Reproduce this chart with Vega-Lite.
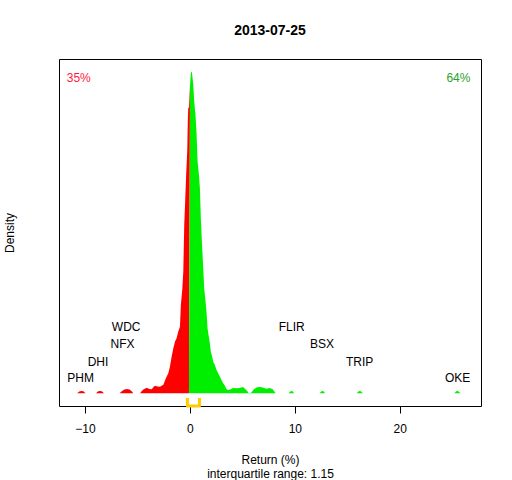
{
  "$schema": "https://vega.github.io/schema/vega-lite/v6.json",
  "width": 422,
  "height": 347,
  "autosize": {"type": "none"},
  "padding": {"left": 59, "top": 59, "right": 31, "bottom": 74},
  "background": "white",
  "title": {
    "text": "2013-07-25",
    "font": "Liberation Sans",
    "fontSize": 14,
    "fontWeight": "bold",
    "color": "black",
    "offset": 21
  },
  "datasets": {
    "density": [
      {"x": -10.75, "y": 0, "side": "neg"},
      {"x": -10.55, "y": 0.005, "side": "neg"},
      {"x": -10.35, "y": 0.007, "side": "neg"},
      {"x": -10.15, "y": 0.006, "side": "neg"},
      {"x": -9.95, "y": 0, "side": "neg"},
      {"x": -8.95, "y": 0, "side": "neg"},
      {"x": -8.75, "y": 0.006, "side": "neg"},
      {"x": -8.55, "y": 0.007, "side": "neg"},
      {"x": -8.35, "y": 0.005, "side": "neg"},
      {"x": -8.2, "y": 0, "side": "neg"},
      {"x": -6.7, "y": 0, "side": "neg"},
      {"x": -6.5, "y": 0.006, "side": "neg"},
      {"x": -6.25, "y": 0.011, "side": "neg"},
      {"x": -6.0, "y": 0.013, "side": "neg"},
      {"x": -5.75, "y": 0.011, "side": "neg"},
      {"x": -5.5, "y": 0.004, "side": "neg"},
      {"x": -5.4, "y": 0, "side": "neg"},
      {"x": -4.75, "y": 0, "side": "neg"},
      {"x": -4.59, "y": 0.007, "side": "neg"},
      {"x": -4.4, "y": 0.012, "side": "neg"},
      {"x": -4.12, "y": 0.017, "side": "neg"},
      {"x": -3.88, "y": 0.013, "side": "neg"},
      {"x": -3.64, "y": 0.012, "side": "neg"},
      {"x": -3.45, "y": 0.02, "side": "neg"},
      {"x": -3.32, "y": 0.023, "side": "neg"},
      {"x": -3.1, "y": 0.021, "side": "neg"},
      {"x": -2.85, "y": 0.02, "side": "neg"},
      {"x": -2.53, "y": 0.026, "side": "neg"},
      {"x": -2.28, "y": 0.047, "side": "neg"},
      {"x": -2.06, "y": 0.062, "side": "neg"},
      {"x": -1.9, "y": 0.083, "side": "neg"},
      {"x": -1.74, "y": 0.114, "side": "neg"},
      {"x": -1.58, "y": 0.14, "side": "neg"},
      {"x": -1.42, "y": 0.161, "side": "neg"},
      {"x": -1.27, "y": 0.171, "side": "neg"},
      {"x": -1.11, "y": 0.192, "side": "neg"},
      {"x": -0.95, "y": 0.207, "side": "neg"},
      {"x": -0.86, "y": 0.275, "side": "neg"},
      {"x": -0.73, "y": 0.322, "side": "neg"},
      {"x": -0.63, "y": 0.379, "side": "neg"},
      {"x": -0.54, "y": 0.524, "side": "neg"},
      {"x": -0.44, "y": 0.607, "side": "neg"},
      {"x": -0.35, "y": 0.685, "side": "neg"},
      {"x": -0.25, "y": 0.758, "side": "neg"},
      {"x": -0.2, "y": 0.85, "side": "neg"},
      {"x": -0.16, "y": 0.888, "side": "neg"},
      {"x": -0.09, "y": 0.888, "side": "neg"},
      {"x": 0.01, "y": 0.96, "side": "pos"},
      {"x": 0.095, "y": 0.997, "side": "pos"},
      {"x": 0.19, "y": 1.0, "side": "pos"},
      {"x": 0.32, "y": 0.96, "side": "pos"},
      {"x": 0.41, "y": 0.908, "side": "pos"},
      {"x": 0.54, "y": 0.862, "side": "pos"},
      {"x": 0.63, "y": 0.81, "side": "pos"},
      {"x": 0.73, "y": 0.722, "side": "pos"},
      {"x": 0.86, "y": 0.68, "side": "pos"},
      {"x": 0.95, "y": 0.639, "side": "pos"},
      {"x": 1.04, "y": 0.545, "side": "pos"},
      {"x": 1.14, "y": 0.472, "side": "pos"},
      {"x": 1.27, "y": 0.389, "side": "pos"},
      {"x": 1.36, "y": 0.327, "side": "pos"},
      {"x": 1.49, "y": 0.285, "side": "pos"},
      {"x": 1.58, "y": 0.254, "side": "pos"},
      {"x": 1.68, "y": 0.202, "side": "pos"},
      {"x": 1.77, "y": 0.182, "side": "pos"},
      {"x": 1.9, "y": 0.156, "side": "pos"},
      {"x": 1.99, "y": 0.13, "side": "pos"},
      {"x": 2.12, "y": 0.114, "side": "pos"},
      {"x": 2.22, "y": 0.098, "side": "pos"},
      {"x": 2.37, "y": 0.088, "side": "pos"},
      {"x": 2.53, "y": 0.073, "side": "pos"},
      {"x": 2.69, "y": 0.062, "side": "pos"},
      {"x": 2.85, "y": 0.052, "side": "pos"},
      {"x": 3.01, "y": 0.041, "side": "pos"},
      {"x": 3.17, "y": 0.031, "side": "pos"},
      {"x": 3.32, "y": 0.024, "side": "pos"},
      {"x": 3.48, "y": 0.013, "side": "pos"},
      {"x": 3.64, "y": 0.01, "side": "pos"},
      {"x": 3.9, "y": 0.012, "side": "pos"},
      {"x": 4.11, "y": 0.016, "side": "pos"},
      {"x": 4.43, "y": 0.015, "side": "pos"},
      {"x": 4.75, "y": 0.016, "side": "pos"},
      {"x": 5.06, "y": 0.019, "side": "pos"},
      {"x": 5.38, "y": 0.01, "side": "pos"},
      {"x": 5.63, "y": 0, "side": "pos"},
      {"x": 5.86, "y": 0.002, "side": "pos"},
      {"x": 6.1, "y": 0.012, "side": "pos"},
      {"x": 6.4, "y": 0.018, "side": "pos"},
      {"x": 6.7, "y": 0.019, "side": "pos"},
      {"x": 7.0, "y": 0.017, "side": "pos"},
      {"x": 7.3, "y": 0.014, "side": "pos"},
      {"x": 7.6, "y": 0.016, "side": "pos"},
      {"x": 7.9, "y": 0.012, "side": "pos"},
      {"x": 8.17, "y": 0, "side": "pos"},
      {"x": 9.4, "y": 0, "side": "pos"},
      {"x": 9.6, "y": 0.006, "side": "pos"},
      {"x": 9.75, "y": 0.007, "side": "pos"},
      {"x": 9.95, "y": 0, "side": "pos"},
      {"x": 12.35, "y": 0, "side": "pos"},
      {"x": 12.55, "y": 0.006, "side": "pos"},
      {"x": 12.7, "y": 0.007, "side": "pos"},
      {"x": 12.9, "y": 0, "side": "pos"},
      {"x": 15.9, "y": 0, "side": "pos"},
      {"x": 16.1, "y": 0.006, "side": "pos"},
      {"x": 16.25, "y": 0.007, "side": "pos"},
      {"x": 16.5, "y": 0, "side": "pos"},
      {"x": 25.2, "y": 0, "side": "pos"},
      {"x": 25.4, "y": 0.006, "side": "pos"},
      {"x": 25.55, "y": 0.007, "side": "pos"},
      {"x": 25.8, "y": 0, "side": "pos"}
    ],
    "tickers": [
      {"ticker": "PHM", "x": -10.42, "y": 0.048},
      {"ticker": "DHI", "x": -8.76, "y": 0.098},
      {"ticker": "NFX", "x": -6.43, "y": 0.154},
      {"ticker": "WDC", "x": -6.08, "y": 0.207},
      {"ticker": "FLIR", "x": 9.7, "y": 0.207},
      {"ticker": "BSX", "x": 12.59, "y": 0.154},
      {"ticker": "TRIP", "x": 16.18, "y": 0.098},
      {"ticker": "OKE", "x": 25.52, "y": 0.048}
    ],
    "iqr": [
      {"x": -0.24, "y": -0.015, "o": 1},
      {"x": -0.24, "y": -0.04, "o": 2},
      {"x": 0.91, "y": -0.04, "o": 3},
      {"x": 0.91, "y": -0.015, "o": 4}
    ],
    "shares": [
      {"label": "35%", "x": -10.6, "y": 0.982, "side": "down"},
      {"label": "64%", "x": 25.6, "y": 0.982, "side": "up"}
    ]
  },
  "layer": [
    {
      "mark": {"type": "rule", "color": "#BEBEBE", "strokeWidth": 1},
      "encoding": {
        "y": {"datum": 0, "type": "quantitative", "scale": {"domain": [-0.04, 1.04], "nice": false, "zero": false}}
      }
    },
    {
      "data": {"name": "density"},
      "mark": {"type": "area", "interpolate": "linear"},
      "encoding": {
        "x": {
          "field": "x",
          "type": "quantitative",
          "scale": {"domain": [-12.48, 27.75], "nice": false, "zero": false},
          "axis": {
            "values": [-10, 0, 10, 20],
            "title": ["Return (%)", "interquartile range: 1.15"]
          }
        },
        "y": {
          "field": "y",
          "type": "quantitative",
          "scale": {"domain": [-0.04, 1.04], "nice": false, "zero": false},
          "axis": {
            "title": "Density",
            "labels": false,
            "ticks": false,
            "domain": false,
            "grid": false,
            "titlePadding": 43
          }
        },
        "color": {
          "field": "side",
          "type": "nominal",
          "scale": {"domain": ["neg", "pos", "down", "up"], "range": ["#FF0000", "#00EE00", "#FF1A3C", "#2E9E2E"]},
          "legend": null
        }
      }
    },
    {
      "data": {"name": "iqr"},
      "mark": {"type": "line", "color": "#FFCC00", "strokeWidth": 3, "strokeJoin": "round"},
      "encoding": {
        "x": {"field": "x", "type": "quantitative"},
        "y": {"field": "y", "type": "quantitative"},
        "order": {"field": "o"}
      }
    },
    {
      "data": {"name": "tickers"},
      "mark": {"type": "text", "font": "Liberation Sans", "fontSize": 12, "color": "black", "baseline": "middle", "align": "center"},
      "encoding": {
        "x": {"field": "x", "type": "quantitative"},
        "y": {"field": "y", "type": "quantitative"},
        "text": {"field": "ticker"}
      }
    },
    {
      "data": {"name": "shares"},
      "mark": {"type": "text", "font": "Liberation Sans", "fontSize": 12, "baseline": "middle", "align": "center"},
      "encoding": {
        "x": {"field": "x", "type": "quantitative"},
        "y": {"field": "y", "type": "quantitative"},
        "text": {"field": "label"},
        "color": {"field": "side", "type": "nominal", "legend": null}
      }
    }
  ],
  "config": {
    "view": {"stroke": "black", "strokeWidth": 1},
    "font": "Liberation Sans",
    "axis": {
      "grid": false,
      "domain": false,
      "tickColor": "black",
      "tickSize": 7,
      "labelFont": "Liberation Sans",
      "labelFontSize": 12,
      "labelColor": "black",
      "labelPadding": 10,
      "titleFont": "Liberation Sans",
      "titleFontSize": 12,
      "titleFontWeight": "normal",
      "titleColor": "black",
      "titlePadding": 20,
      "titleLineHeight": 14
    }
  }
}
